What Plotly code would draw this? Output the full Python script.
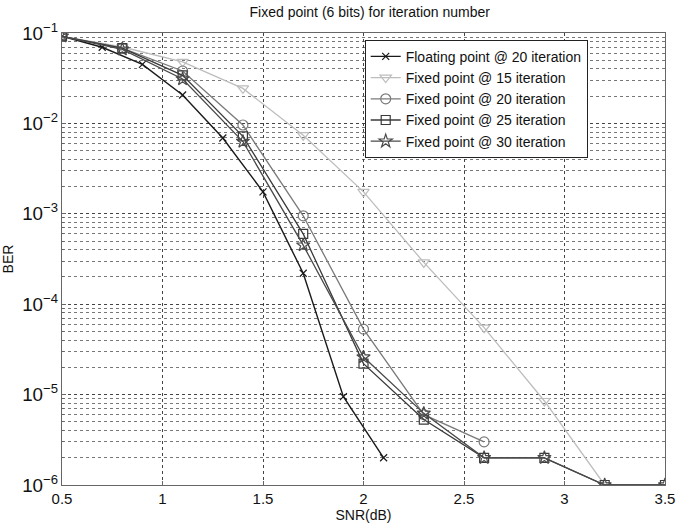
import plotly.graph_objects as go

# ---- data ----
snr_float = [0.5, 0.7, 0.9, 1.1, 1.3, 1.5, 1.7, 1.9, 2.1]
ber_float = [0.092, 0.0695, 0.045, 0.0206, 0.0069, 0.00175, 2.2e-4, 9.5e-6, 2.0e-6]

snr_fixed15 = [0.5, 0.8, 1.1, 1.4, 1.7, 2.0, 2.3, 2.6, 2.9, 3.2]
ber_fixed15 = [0.092, 0.070, 0.048, 0.0244, 0.0074, 0.00175, 2.9e-4, 5.5e-5, 8.5e-6, 1.0e-6]

snr_fixed20 = [0.5, 0.8, 1.1, 1.4, 1.7, 2.0, 2.3, 2.6]
ber_fixed20 = [0.092, 0.068, 0.038, 0.0096, 9.5e-4, 5.3e-5, 6.0e-6, 3.0e-6]

snr_fixed25 = [0.5, 0.8, 1.1, 1.4, 1.7, 2.0, 2.3, 2.6, 2.9, 3.2, 3.5]
ber_fixed25 = [0.092, 0.068, 0.034, 0.0072, 6.0e-4, 2.2e-5, 5.3e-6, 2.0e-6, 2.0e-6, 1.0e-6, 1.0e-6]

snr_fixed30 = [0.5, 0.8, 1.1, 1.4, 1.7, 2.0, 2.3, 2.6, 2.9, 3.2, 3.5]
ber_fixed30 = [0.092, 0.066, 0.031, 0.0063, 4.5e-4, 2.6e-5, 6.2e-6, 2.0e-6, 2.0e-6, 1.0e-6, 1.0e-6]

x_ticks = [0.5, 1, 1.5, 2, 2.5, 3, 3.5]
x_tick_labels = ["0.5", "1", "1.5", "2", "2.5", "3", "3.5"]

FONT = "Liberation Sans, Arial, sans-serif"

fig = go.Figure()

def add(x, y, name, color, symbol, size=8, width=1.3):
    fig.add_trace(go.Scatter(
        x=x, y=y, name=name, mode="lines+markers",
        line=dict(color=color, width=width),
        marker=dict(symbol=symbol, size=size, color=color,
                    line=dict(color=color, width=1.2)),
    ))

add(snr_float, ber_float, "Floating point @ 20 iteration", "#1a1a1a", "x-thin", size=7, width=1.4)
add(snr_fixed15, ber_fixed15, "Fixed point @ 15 iteration", "#bdbdbd", "triangle-down-open", size=10)
add(snr_fixed20, ber_fixed20, "Fixed point @ 20 iteration", "#7a7a7a", "circle-open", size=10)
add(snr_fixed25, ber_fixed25, "Fixed point @ 25 iteration", "#3a3a3a", "square-open", size=9)
add(snr_fixed30, ber_fixed30, "Fixed point @ 30 iteration", "#4a4a4a", "star-open", size=10)

fig.update_layout(
    width=676, height=531,
    margin=dict(l=62, r=11, t=33, b=46),
    paper_bgcolor="white", plot_bgcolor="white",
    font=dict(family=FONT, size=14, color="#111"),
    title=dict(text="Fixed point (6 bits) for iteration number",
               x=0.547, xanchor="center", y=0.977, yanchor="middle",
               font=dict(size=14, family=FONT, color="#111")),
    showlegend=True,
    legend=dict(x=0.502, y=0.985, xanchor="left", yanchor="top",
                bgcolor="white", bordercolor="#222", borderwidth=1,
                font=dict(size=14, family=FONT, color="#111"),
                itemwidth=30, tracegroupgap=0),
)

fig.update_xaxes(
    range=[0.5, 3.5], tickvals=x_ticks, ticktext=x_tick_labels,
    automargin=False,
    showgrid=True, gridcolor="#444", griddash="dot", gridwidth=1,
    showline=True, linecolor="#666", linewidth=1, mirror=True,
    ticks="inside", ticklen=4, tickcolor="#666",
    title=dict(text="SNR(dB)", font=dict(size=14, family=FONT), standoff=4),
    tickfont=dict(size=15, family=FONT),
    zeroline=False,
)

fig.update_yaxes(
    type="log", range=[-6, -1], dtick=1, exponentformat="power",
    automargin=False,
    showgrid=True, gridcolor="#444", griddash="dot", gridwidth=1,
    minor=dict(dtick="D1", showgrid=True, gridcolor="#777", griddash="dot",
               ticks="inside", ticklen=2, tickcolor="#666"),
    showline=True, linecolor="#666", linewidth=1, mirror=True,
    ticks="inside", ticklen=4, tickcolor="#666",
    title=dict(text="BER", font=dict(size=14, family=FONT), standoff=8),
    tickfont=dict(size=15, family=FONT),
    zeroline=False,
)

fig.write_html("out.html")
